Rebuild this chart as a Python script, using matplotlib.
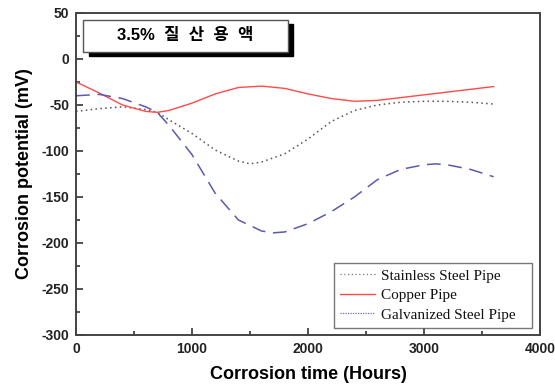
import matplotlib
matplotlib.use("Agg")
import matplotlib.pyplot as plt
from matplotlib.patches import Rectangle
from matplotlib.lines import Line2D
from matplotlib.ticker import MultipleLocator

plt.rcParams["axes.unicode_minus"] = False

# Corrosion potential readings (mV) versus exposure time (hours)
hours_copper = [0, 200, 400, 600, 700, 800, 1000, 1200, 1400, 1600, 1800, 2000,
                2200, 2400, 2600, 2800, 3000, 3200, 3400, 3600]
copper = [-25, -37, -50, -57, -58, -56, -48, -38, -31, -29.5, -32, -38,
          -43, -46, -45, -42, -39, -36, -33, -30]

hours_stainless = [0, 200, 400, 600, 700, 800, 1000, 1200, 1400, 1500, 1600, 1800,
                   2000, 2200, 2400, 2600, 2800, 3000, 3200, 3400, 3600]
stainless = [-57, -54, -52, -55, -58, -66, -81, -99, -111, -114, -112, -103,
             -87, -68, -56, -50, -47, -46, -46, -47, -49]

hours_galv = [0, 200, 400, 600, 700, 800, 1000, 1200, 1400, 1600, 1700, 1800,
              2000, 2200, 2400, 2600, 2800, 3000, 3100, 3200, 3400, 3600]
galvanized = [-40, -38.5, -43, -52, -58, -72, -104, -146, -175, -187, -189, -188,
              -179, -166, -150, -131, -120, -115, -114, -115, -120, -128]

series_names = ["Stainless Steel Pipe", "Copper Pipe", "Galvanized Steel Pipe"]
title_text = "3.5%  질  산  용  액"

fig = plt.figure(figsize=(5.55, 3.88), dpi=100)
ax = fig.add_axes([0.137, 0.1366, 0.836, 0.830])

ax.plot(hours_stainless, stainless, color="#555555", lw=1.1,
        linestyle=(0, (1, 2.2)))
ax.plot(hours_copper, copper, color="#ff4a4a", lw=1.0, linestyle="-")
ax.plot(hours_galv, galvanized, color="#5a5aae", lw=1.1,
        linestyle=(0, (9, 5)))

ax.set_xlim(0, 4000)
ax.set_ylim(-300, 50)
ax.xaxis.set_major_locator(MultipleLocator(1000))
ax.xaxis.set_minor_locator(MultipleLocator(500))
ax.yaxis.set_major_locator(MultipleLocator(50))
ax.yaxis.set_minor_locator(MultipleLocator(25))
ax.tick_params(which="both", direction="in", top=False, right=False,
               width=1.2, color="#333333")
ax.tick_params(which="major", length=5, labelsize=10, pad=5)
ax.tick_params(which="minor", length=3)
for lab in ax.get_xticklabels() + ax.get_yticklabels():
    lab.set_fontfamily("Liberation Sans")
    lab.set_fontweight("bold")
    lab.set_color("#222222")
for sp in ax.spines.values():
    sp.set_linewidth(1.4)
    sp.set_color("#444444")

ax.set_xlabel("Corrosion time (Hours)", fontsize=13, fontweight="bold",
              family="Liberation Sans", labelpad=7)
ax.set_ylabel("Corrosion potential (mV)", fontsize=13, fontweight="bold",
              family="Liberation Sans", labelpad=6)

# Title box with a drop shadow
bx0, by0, bw, bh = 0.016, 0.879, 0.44, 0.099
ax.add_patch(Rectangle((bx0 + 0.011, by0 - 0.012), bw, bh, transform=ax.transAxes,
                       facecolor="black", edgecolor="black", zorder=4))
ax.add_patch(Rectangle((bx0, by0), bw, bh, transform=ax.transAxes,
                       facecolor="white", edgecolor="#555555", lw=1.0, zorder=5))
ax.text(bx0 + bw / 2, by0 + bh / 2, title_text, transform=ax.transAxes,
        ha="center", va="center", fontsize=12, fontweight="bold",
        family=["Liberation Sans", "Noto Sans CJK KR"], zorder=6)

# Legend keys drawn as thin dotted / solid strokes
handles = [
    Line2D([], [], color="#777777", lw=0.9, linestyle=(0, (1, 2))),
    Line2D([], [], color="#ff4a4a", lw=1.0, linestyle="-"),
    Line2D([], [], color="#6a6ac0", lw=0.9, linestyle=(0, (1, 1))),
]
leg = ax.legend(handles, series_names, loc="lower left", mode="expand",
                bbox_to_anchor=(0.556, 0.022, 0.427, 0.202),
                frameon=True, fancybox=False,
                prop={"family": "Liberation Serif", "size": 11},
                handlelength=2.3, handletextpad=0.4, labelspacing=0.38,
                borderpad=0.4, borderaxespad=0.0)
for t in leg.get_texts():
    t.set_color("#111111")
leg.get_frame().set_edgecolor("#555555")
leg.get_frame().set_linewidth(1.0)

fig.savefig("out.png", dpi=100)
